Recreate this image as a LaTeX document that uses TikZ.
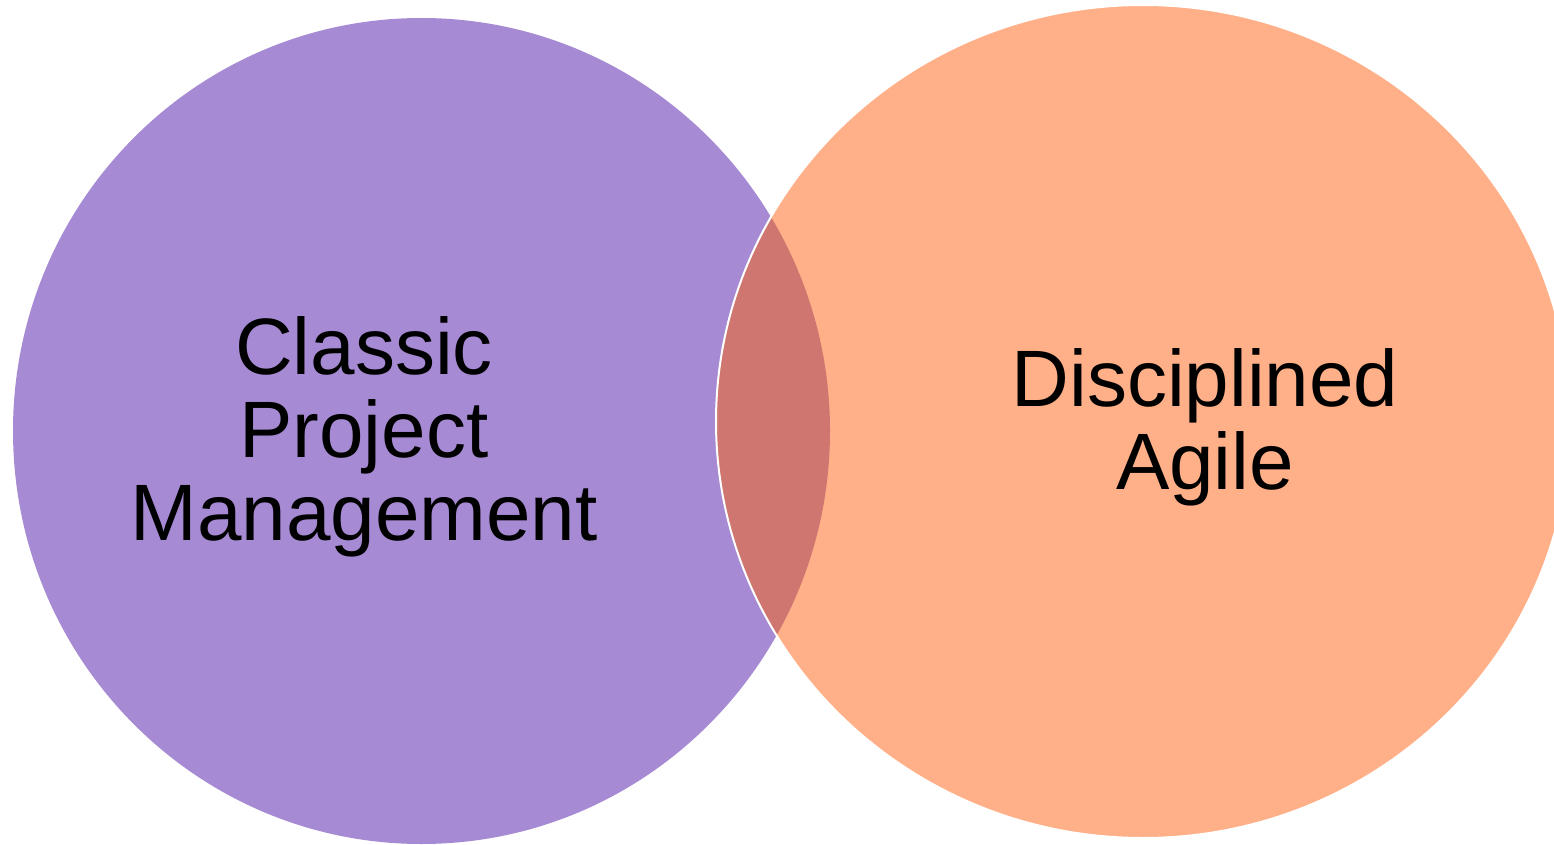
\documentclass[tikz,border=0pt]{standalone}
\usepackage{fontspec}
\setmainfont{Liberation Sans}
\definecolor{classic}{HTML}{A68AD3}
\definecolor{agile}{HTML}{FFB088}
\definecolor{overlap}{HTML}{CE766F}
\tikzset{setlabel/.style = {align=center, inner sep=0pt, font=\fontsize{80}{83}\selectfont},
         rim/.style = {draw=white, line width=2pt}}
\def\classicset{(421.5,431) ellipse [x radius=408.5pt, y radius=413pt]}
\def\agileset{(1143,421.5) ellipse [x radius=427pt, y radius=416.5pt]}

\begin{document}
\begin{tikzpicture}[x=1pt,y=-1pt]
        \useasboundingbox(0,0)rectangle(1554,845);
        \fill[classic]\classicset;
        \fill[agile]\agileset;

        % common part of both sets
        \begin{scope}
            \clip\classicset;
            \fill[overlap]\agileset;
        \end{scope}
        \path[rim]\agileset;

        \node[setlabel](cpm)at(364,437){Classic\\Project\\Management};
        \node[setlabel](da)at(1205,427){Disciplined\\Agile};
    \end{tikzpicture}
\end{document}
